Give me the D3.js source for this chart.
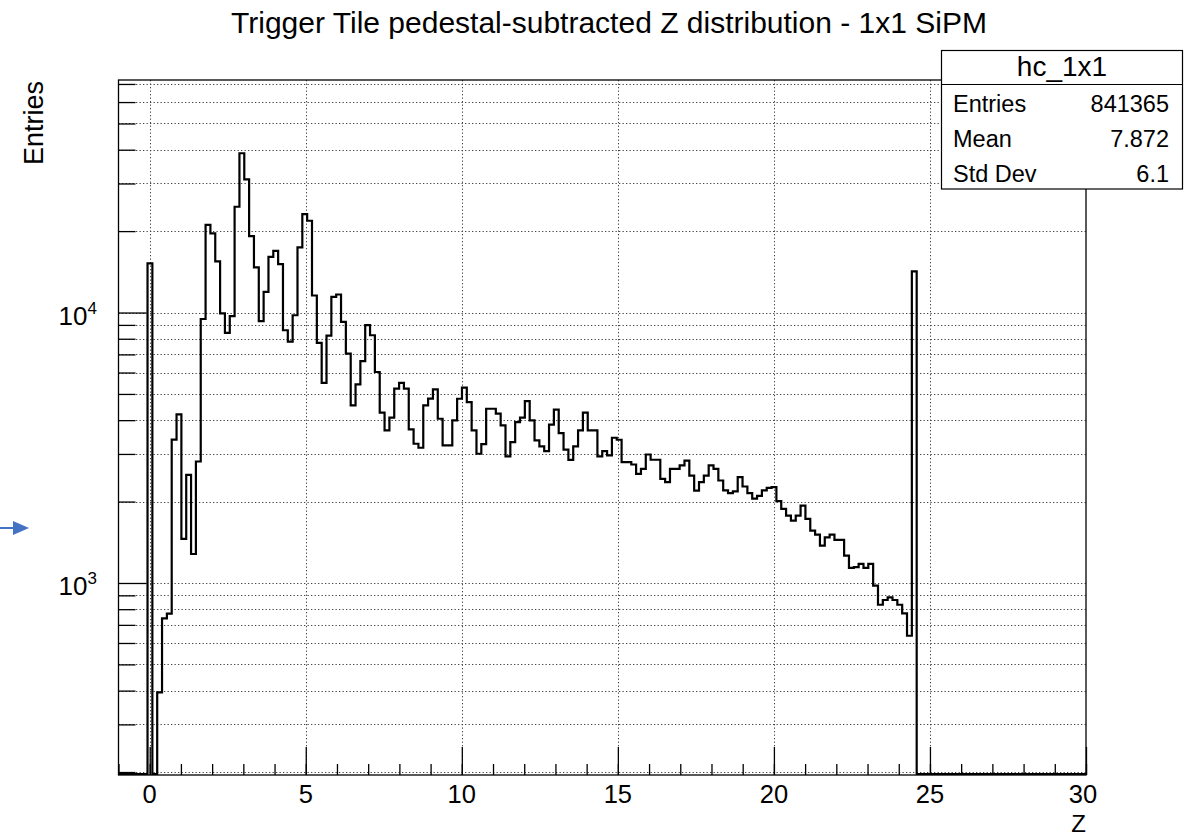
<!DOCTYPE html>
<html>
<head>
<meta charset="utf-8">
<script src="https://cdn.jsdelivr.net/npm/d3@7"></script>
<style>
  html, body { margin: 0; padding: 0; background: #fff; }
  svg { display: block; font-family: "Liberation Sans", Arial, Helvetica, sans-serif; }
</style>
</head>
<body>
<svg id="chart" width="1196" height="836"></svg>
<script>
// ---------------- data ----------------
const histName = "hc_1x1";
const chartTitle = "Trigger Tile pedestal-subtracted Z distribution - 1x1 SiPM";
const xTitle = "Z";
const yTitle = "Entries";
const nBins = 200, xMin = -1, xMax = 30;         // histogram binning
const firstFilledBin = 6;                         // bins before this are empty
// bin contents, starting at bin index 6 (Z ~ 0), ending at bin 164 (Z ~ 24.5)
const binCounts = [
  15200, 0, 394, 740, 770, 3390, 4200, 1455, 2512, 1280,
  2813, 9465, 21100, 19620, 15450, 9920, 8405, 9690, 24610, 38800,
  31090, 19170, 14680, 9290, 11920, 16070, 16910, 15100, 8600, 7810,
  9770, 17400, 23120, 21840, 11560, 7720, 5490, 8220, 11420, 11660,
  9230, 7050, 4535, 5425, 6617, 8977, 8240, 6026, 4265, 3665,
  4084, 5230, 5490, 5230, 3697, 3272, 3162, 4535, 4803, 5200,
  4048, 3225, 3225, 3990, 4800, 5275, 4665, 3665, 3005, 3260,
  4408, 4408, 4226, 3825, 2937, 3318, 3935, 4084, 4706, 3990,
  3365, 3200, 3072, 3850, 4372, 3582, 3110, 2850, 3198, 3665,
  4265, 3665, 3665, 2937, 3072, 2962, 3443, 3385, 2796, 2796,
  2742, 2533, 2643, 2986, 2855, 2855, 2427, 2359, 2643, 2643,
  2720, 2836, 2496, 2197, 2359, 2496, 2720, 2643, 2393, 2200,
  2150, 2180, 2461, 2274, 2150, 2050, 2100, 2200, 2249, 2260,
  2006, 1880, 1775, 1701, 1775, 1932, 1726, 1562, 1510, 1374,
  1475, 1510, 1443, 1443, 1262, 1137, 1145, 1176, 1137, 1176,
  977, 831, 865, 884, 865, 831, 772, 638, 14200
];
const statLabels = ["Entries", "Mean", "Std Dev"];
const statValues = ["841365", "7.872", "6.1"];
const xMajorTicks = [0, 5, 10, 15, 20, 25, 30];
const xMinorTicks = d3.range(-1, 31, 1);
const yMajorTicks = [1e3, 1e4];
const yMinorTicks = [200,300,400,500,600,700,800,900,2000,3000,4000,5000,6000,7000,8000,9000,20000,30000,40000,50000,60000,70000];
const yDomain = [195, 72400];

// ---------------- layout ----------------
const svg = d3.select("#chart");
const L = 118.5, R = 1086, T = 80, B = 775;
const x = d3.scaleLinear().domain([xMin, xMax]).range([L, R]);
const y = d3.scaleLog().domain(yDomain).range([B, T]);
const binW = (xMax - xMin) / nBins;

// grid
const grid = svg.append("g").attr("stroke", "#444").attr("stroke-width", 1).attr("stroke-dasharray", "1.3,2.2");
grid.selectAll("line.gx").data(xMajorTicks.filter(d => d > xMin && d < xMax)).join("line")
  .attr("x1", d => Math.round(x(d)) + 0.5).attr("x2", d => Math.round(x(d)) + 0.5)
  .attr("y1", T).attr("y2", B);
grid.selectAll("line.gy").data(yMajorTicks.concat(yMinorTicks)).join("line")
  .attr("x1", L).attr("x2", R)
  .attr("y1", d => Math.round(y(d)) + 0.5).attr("y2", d => Math.round(y(d)) + 0.5);

// histogram outline (step line; empty bins sit on the frame bottom)
const clip = svg.append("clipPath").attr("id", "plotclip");
clip.append("rect").attr("x", L - 2).attr("y", T).attr("width", R - L + 4).attr("height", B - T + 2);
const firstX = xMin + firstFilledBin * binW;
const outline = [[xMin, null], [firstX, null]];
binCounts.forEach((c, i) => {
  const k = firstFilledBin + i;
  const x0 = xMin + k * binW, x1 = xMin + (k + 1) * binW;
  outline.push([x0, c], [x1, c]);
});
const lastX = xMin + (firstFilledBin + binCounts.length) * binW;
outline.push([lastX, null], [xMax, null]);
const yOf = c => (c === null || c < yDomain[0]) ? B - 1 : y(c);
const line = d3.line().x(d => x(d[0])).y(d => yOf(d[1]));
svg.append("path").attr("clip-path", "url(#plotclip)")
  .attr("d", line(outline))
  .attr("fill", "none").attr("stroke", "#000").attr("stroke-width", 2.2)
  .attr("stroke-linejoin", "miter");

// axes ticks (inside the frame)
const axX = svg.append("g").attr("transform", `translate(0,${B})`);
axX.call(d3.axisBottom(x).tickValues(xMinorTicks).tickSize(-11).tickFormat(""));
axX.append("g").call(d3.axisBottom(x).tickValues(xMajorTicks).tickSize(-28).tickFormat(""));
axX.selectAll(".domain").remove();
const axY = svg.append("g").attr("transform", `translate(${L},0)`);
axY.call(d3.axisLeft(y).tickValues(yMinorTicks).tickSize(-17).tickFormat(""));
axY.append("g").call(d3.axisLeft(y).tickValues(yMajorTicks).tickSize(-28).tickFormat(""));
axY.selectAll(".domain").remove();
svg.selectAll(".tick line").attr("stroke", "#000").attr("stroke-width", 1.3);

// frame
svg.append("rect").attr("x", L).attr("y", T).attr("width", R - L).attr("height", B - T)
  .attr("fill", "none").attr("stroke", "#000").attr("stroke-width", 1.3);

// x tick labels
svg.append("g").selectAll("text").data(xMajorTicks).join("text")
  .attr("x", d => x(d) - (d === 30 ? 3 : 0)).attr("y", 803).attr("text-anchor", "middle")
  .attr("font-size", 25.5).text(d => d);
// y tick labels 10^n
const yl = svg.append("g").selectAll("text").data(yMajorTicks).join("text")
  .attr("x", 97).attr("y", d => y(d) + 12).attr("text-anchor", "end").attr("font-size", 26);
yl.append("tspan").text("10");
yl.append("tspan").attr("font-size", 17).attr("dy", -11).text(d => Math.round(Math.log10(d)));

// axis titles
svg.append("text").attr("x", 1086).attr("y", 832).attr("text-anchor", "end").attr("font-size", 24).text(xTitle);
svg.append("text").attr("transform", "translate(43,81) rotate(-90)").attr("text-anchor", "end")
  .attr("font-size", 27).text(yTitle);

// title
svg.append("text").attr("x", 609).attr("y", 33).attr("text-anchor", "middle").attr("font-size", 30).text(chartTitle);

// stats box
const sb = svg.append("g");
sb.append("rect").attr("x", 941.5).attr("y", 50.5).attr("width", 241).attr("height", 138.5)
  .attr("fill", "#fff").attr("stroke", "#000").attr("stroke-width", 1.2);
sb.append("line").attr("x1", 941.5).attr("x2", 1182.5).attr("y1", 84.5).attr("y2", 84.5)
  .attr("stroke", "#000").attr("stroke-width", 1.2);
sb.append("text").attr("x", 1062).attr("y", 76).attr("text-anchor", "middle").attr("font-size", 28).text(histName);
const rowY = [112, 147, 182];
sb.selectAll("text.lab").data(statLabels).join("text").attr("class", "lab")
  .attr("x", 953).attr("y", (d, i) => rowY[i]).attr("font-size", 23.5).text(d => d);
sb.selectAll("text.val").data(statValues).join("text").attr("class", "val")
  .attr("x", 1169).attr("y", (d, i) => rowY[i]).attr("text-anchor", "end").attr("font-size", 23.5).text(d => d);

// blue annotation arrow on the left
const arrow = svg.append("g").attr("fill", "#4472C4").attr("stroke", "#4472C4");
arrow.append("line").attr("x1", 0).attr("x2", 16).attr("y1", 528).attr("y2", 528).attr("stroke-width", 2);
arrow.append("path").attr("d", "M13,521 L29,528 L13,535 Z").attr("stroke", "none");
</script>
</body>
</html>
